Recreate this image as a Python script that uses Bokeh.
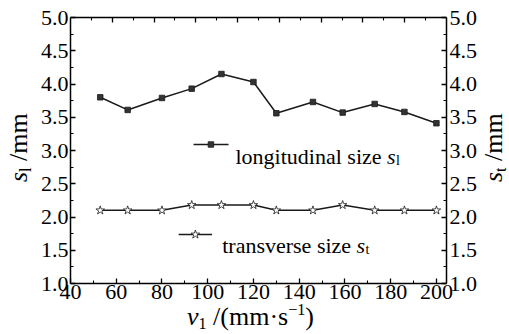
from bokeh.plotting import figure
from bokeh.models import Range1d, LinearAxis, FixedTicker, PrintfTickFormatter, Label, Div
from bokeh.embed import file_html
from bokeh.resources import INLINE

# ---- data ----
speed = [53, 65, 80, 93, 106, 120, 130, 146, 159, 173, 186, 200]
s_long = [3.80, 3.61, 3.79, 3.93, 4.15, 4.03, 3.56, 3.73, 3.57, 3.70, 3.58, 3.41]
s_trans = [2.10, 2.10, 2.10, 2.18, 2.18, 2.18, 2.10, 2.10, 2.18, 2.10, 2.10, 2.10]
x_major = [40, 60, 80, 100, 120, 140, 160, 180, 200]
x_minor = [50, 70, 90, 110, 130, 150, 170, 190]
top_major = [60, 80, 100, 120, 140, 160, 180, 200]
top_minor = [50, 70, 90, 110, 130, 150, 170, 190, 210]
y_major = [1.0, 1.5, 2.0, 2.5, 3.0, 3.5, 4.0, 4.5, 5.0]
y_minor = [1.25, 1.75, 2.25, 2.75, 3.25, 3.75, 4.25, 4.75]

FONT = "Liberation Serif"
INK = "#1a1a1a"

p = figure(width=509, height=334, output_backend="svg", toolbar_location=None,
           x_range=Range1d(40, 204.4), y_range=Range1d(1, 5),
           min_border_left=70, min_border_right=63, min_border_top=17, min_border_bottom=51)
p.extra_x_ranges = {"top": Range1d(40, 220)}
p.xgrid.visible = False
p.ygrid.visible = False
p.outline_line_color = None
p.background_fill_color = "white"
p.border_fill_color = "white"

p.add_layout(LinearAxis(), "right")
p.add_layout(LinearAxis(x_range_name="top"), "above")

def style(ax, major, minor, show_labels=True, standoff=2):
    ax.ticker = FixedTicker(ticks=major, minor_ticks=minor)
    ax.axis_line_color = "black"
    ax.axis_line_width = 1.5
    ax.major_tick_line_color = "black"
    ax.minor_tick_line_color = "black"
    ax.major_tick_line_width = 1.3
    ax.minor_tick_line_width = 1.1
    ax.major_tick_in = 5
    ax.major_tick_out = 0
    ax.minor_tick_in = 3
    ax.minor_tick_out = 0
    ax.major_label_text_font = FONT
    ax.major_label_text_color = "black"
    ax.major_label_standoff = standoff
    ax.major_label_text_font_size = "22px"
    if not show_labels:
        ax.major_label_overrides = {t: "" for t in major}
        ax.major_label_standoff = 0

for ax in p.below:
    style(ax, x_major, x_minor, True, 1)
for ax in p.above:
    style(ax, top_major, top_minor, False)
for ax in p.left:
    style(ax, y_major, y_minor, True, 2)
    ax.formatter = PrintfTickFormatter(format="%.1f")
for ax in p.right:
    style(ax, y_major, y_minor, True, 3)
    ax.formatter = PrintfTickFormatter(format="%.1f")

# ---- series ----
p.line(speed, s_long, line_color=INK, line_width=1.5)
p.scatter(speed, s_long, marker="square", size=5.5, fill_color="#333333", line_color=INK, line_width=0.8)
p.line(speed, s_trans, line_color=INK, line_width=1.5)
p.scatter(speed, s_trans, marker="star", size=9, fill_color="white", line_color=INK, line_width=0.8)

# ---- in-plot legend samples ----
p.line([93.8, 109.1], [3.09, 3.09], line_color=INK, line_width=1.5)
p.scatter([101.4], [3.09], marker="square", size=5.5, fill_color="#333333", line_color=INK, line_width=0.8)
p.line([87.3, 101.9], [1.737, 1.737], line_color=INK, line_width=1.5)
p.scatter([94.6], [1.737], marker="star", size=9, fill_color="white", line_color=INK, line_width=0.8)

def lab(x, y, text, size, fstyle="normal"):
    p.add_layout(Label(x=x, y=y, x_units="screen", y_units="screen", text=text,
                       text_font=FONT, text_font_size=f"{size}px", text_font_style=fstyle,
                       text_color="black", text_align="left", text_baseline="alphabetic"))

# legend texts (screen coords relative to frame bottom-left)
lab(165, 127.3, "longitudinal size ", 22)
lab(316.6, 127.3, "s", 22, "italic")
lab(325.4, 123.3, "l", 14)
lab(151.7, 38, "transverse size ", 22)
lab(286.1, 38, "s", 22, "italic")
lab(294.9, 34, "t", 14)

# ---- axis titles as rich HTML text ----
FAM = "Liberation Serif, Times New Roman, serif"
SUB = '<span style="font-size:0.62em;position:relative;top:0.22em">{}</span>'
SUP = '<span style="font-size:0.62em;position:relative;top:-0.62em">{}</span>'
BASE = f"font-family:{FAM};font-size:26px;line-height:0.85;white-space:nowrap;color:black;"

def title_div(html, left, top, rotate=False):
    styles = {"position": "absolute", "left": f"{left}px", "top": f"{top}px",
              "margin": "0", "padding": "0", "font-family": FAM, "font-size": "26px",
              "line-height": "0.85", "color": "black"}
    if rotate:
        styles["transform-origin"] = "0 0"
        styles["transform"] = "rotate(-90deg)"
    return Div(text=f'<span style="{BASE}">{html}</span>', styles=styles, margin=(0, 0, 0, 0))

x_title = title_div('<i>v</i>' + SUB.format('1') + ' /(mm·s' + SUP.format('−1') + ')', 187, 306)
yl_title = title_div('<i>s</i>' + SUB.format('l') + ' /mm', 8, 182, rotate=True)
yr_title = title_div('<i>s</i>' + SUB.format('t') + ' /mm', 483, 182, rotate=True)

open("out.html", "w").write(file_html([p, x_title, yl_title, yr_title], INLINE))
